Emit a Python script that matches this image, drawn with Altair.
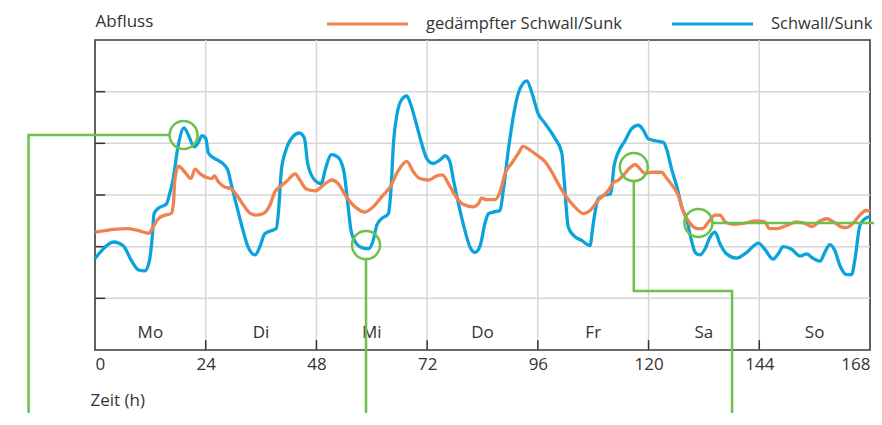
import altair as alt
import pandas as pd

# ---------------- data ----------------
blue_h = [0, 1.4, 4, 6.1, 7.9, 9.4, 10.8, 11.7, 12.4, 12.8, 13.7, 15.5, 16.2, 16.9, 18, 19.3, 20.2, 21.5, 22.3, 23.2,
          24, 24.6, 25.9, 27.7, 28.8, 29.5, 30.6, 32.1, 33.2, 34.7, 35.7, 36.8, 38.2, 39.3, 39.8, 40.4, 41.4, 42.9,
          44.3, 45.4, 46.1, 47.6, 49, 50.1, 51.2, 52.6, 53.9, 54.8, 55.5, 56.5, 57.4, 59.3, 60.3, 61.1, 62.1, 63.6,
          64.2, 64.7, 65.4, 66.5, 67.6, 68.3, 69.4, 70.8, 71.9, 73.3, 74.8, 75.9, 76.9, 77.7, 78.8, 80.2, 81.3, 82.4,
          83.5, 84.5, 85.3, 86.3, 87.8, 88.5, 89.6, 90.7, 91.8, 93.6, 94.7, 96, 97.5, 99.7, 101.2, 101.7, 102.6,
          103.7, 105.5, 107.3, 108, 109.1, 110.5, 111.8, 112.5, 113.4, 114.9, 116.3, 117.8, 118.9, 119.9, 121.4,
          123.2, 123.9, 125, 126.1, 127.2, 128.3, 129.3, 130.1, 131.1, 132.2, 133.3, 134.4, 135.5, 136.9, 139.1,
          141.3, 143.8, 145.2, 147, 148.1, 149.2, 151, 152.8, 154.3, 155.4, 157.2, 158.2, 159.3, 160.4, 161.5,
          162.9, 164, 164.8, 165.8, 166.9, 168]
blue_v = [1.77, 1.92, 2.09, 2.02, 1.73, 1.55, 1.53, 1.69, 2.18, 2.64, 2.74, 2.83, 3.03, 3.29, 3.94, 4.30, 4.17, 3.93,
          4.0, 4.15, 4.10, 3.81, 3.71, 3.61, 3.48, 3.22, 2.83, 2.31, 1.99, 1.84, 1.99, 2.25, 2.31, 2.35, 2.70, 3.48,
          3.87, 4.13, 4.20, 4.10, 3.61, 3.29, 3.22, 3.55, 3.78, 3.74, 3.48, 2.83, 2.31, 2.08, 2.0, 1.96, 2.12, 2.42,
          2.54, 2.64, 3.16, 4.0, 4.53, 4.85, 4.92, 4.79, 4.46, 4.0, 3.71, 3.61, 3.68, 3.76, 3.65, 3.29, 2.83, 2.31,
          1.99, 1.89, 2.02, 2.44, 2.64, 2.67, 2.70, 3.09, 3.87, 4.53, 4.98, 5.21, 4.98, 4.59, 4.39, 4.10, 3.81, 3.29,
          2.38, 2.22, 2.12, 2.02, 2.44, 2.93, 3.0, 3.02, 3.55, 3.82, 4.05, 4.28, 4.35, 4.25, 4.09, 4.05, 4.02, 3.89,
          3.50, 3.17, 2.77, 2.51, 2.12, 1.89, 1.84, 1.95, 2.18, 2.28, 2.05, 1.86, 1.78, 1.89, 2.07, 1.95, 1.76, 1.86,
          2.0, 1.95, 1.82, 1.86, 1.79, 1.72, 1.89, 2.04, 1.92, 1.63, 1.46, 1.46, 1.79, 2.41, 2.54, 2.58]

orange_h = [0, 3.6, 7.2, 9.8, 11.6, 12.6, 13.7, 15.2, 16.5, 17, 17.3, 18.1, 19.4, 20.8, 21.7, 22.8, 24.2, 25.3, 25.9,
            26.7, 28.2, 29.3, 30.7, 32.2, 33.6, 35, 36.5, 37.9, 39, 40.1, 41.5, 43.4, 44.4, 45.9, 47.7, 49.9, 51.3,
            52.7, 54.5, 56.5, 58.5, 60.3, 62.1, 64, 65.8, 67.6, 69, 70.4, 72.3, 74.1, 75.3, 76.6, 78, 79.8, 82, 83.1,
            83.8, 84.9, 86.7, 87.8, 88.9, 90.3, 91.8, 92.8, 94.3, 95.7, 97.5, 99, 100.4, 101.9, 103.7, 105.9, 107.3,
            109.1, 111.3, 112.4, 113.5, 114.5, 116, 117.1, 118.1, 119.2, 120.7, 122.8, 123.9, 125, 126.4, 127.5, 129,
            130.6, 131.7, 133, 134.4, 135.5, 136.6, 138.4, 140.5, 143.4, 145.2, 146.2, 147.8, 149.9, 152.1, 153.9,
            155.4, 157.2, 158.6, 160.1, 161.9, 162.9, 164.4, 165.8, 167.1, 168]
orange_v = [2.28, 2.33, 2.35, 2.30, 2.26, 2.38, 2.54, 2.61, 2.64, 2.83, 3.29, 3.56, 3.45, 3.32, 3.50, 3.41, 3.34, 3.32,
            3.37, 3.26, 3.15, 3.13, 3.0, 2.80, 2.65, 2.61, 2.64, 2.80, 3.06, 3.16, 3.26, 3.41, 3.29, 3.11, 3.08, 3.22,
            3.29, 3.22, 2.96, 2.76, 2.67, 2.77, 2.96, 3.16, 3.48, 3.65, 3.45, 3.32, 3.29, 3.37, 3.39, 3.22, 3.0, 2.82,
            2.77, 2.83, 2.94, 2.91, 2.91, 3.06, 3.42, 3.61, 3.81, 3.94, 3.87, 3.78, 3.65, 3.45, 3.22, 3.0, 2.80, 2.64,
            2.70, 2.90, 3.09, 3.24, 3.29, 3.38, 3.53, 3.59, 3.51, 3.42, 3.44, 3.44, 3.33, 3.20, 3.0, 2.68, 2.45, 2.35,
            2.35, 2.48, 2.61, 2.61, 2.48, 2.43, 2.45, 2.50, 2.48, 2.35, 2.35, 2.41, 2.48, 2.45, 2.39, 2.50, 2.54, 2.48,
            2.38, 2.37, 2.46, 2.61, 2.70, 2.69]

series_names = ["gedämpfter Schwall/Sunk", "Schwall/Sunk"]
series_colors = ["#f0824f", "#0aa3dc"]

day_labels = ["Mo", "Di", "Mi", "Do", "Fr", "Sa", "So"]
day_centers = [12, 36, 60, 84, 108, 132, 156]

x_tick_labels = [0, 24, 48, 72, 96, 120, 144, 168]
x_grid = [24, 48, 72, 96, 120, 144]
y_grid = [1, 2, 3, 4, 5]

# annotation circles (hours, value)
circle_h = [19.2, 58.75, 116.8, 130.8]
circle_v = [4.16, 2.03, 3.54, 2.46]

# annotation leader lines: path id, order, hours, value
lead_id = [1, 1, 1, 2, 2, 3, 3, 3, 3, 4, 4]
lead_ord = [0, 1, 2, 0, 1, 0, 1, 2, 3, 0, 1]
lead_h = [16.2, -14.4, -14.4, 58.75, 58.75, 116.8, 116.8, 138.1, 138.1, 133.8, 173]
lead_v = [4.16, 4.16, -1.8, 1.76, -1.8, 3.27, 1.14, 1.14, -1.8, 2.46, 2.46]

# ---------------- build ----------------
FONT = "Open Sans"
TXT = "#333333"
GREEN = "#6cc04b"

df_blue = pd.DataFrame({"h": blue_h, "v": blue_v, "serie": "Schwall/Sunk"})
df_orange = pd.DataFrame({"h": orange_h, "v": orange_v, "serie": "gedämpfter Schwall/Sunk"})
df_days = pd.DataFrame({"h": day_centers, "label": day_labels, "v": 0.33})
df_xgrid = pd.DataFrame({"h": x_grid})
df_ygrid = pd.DataFrame({"v": y_grid})
df_xt = pd.DataFrame({"h": x_grid, "v0": 0.0, "v1": 0.19})
df_yt = pd.DataFrame({"v": y_grid, "h0": 0.0, "h1": 2.2})
df_circ = pd.DataFrame({"h": circle_h, "v": circle_v})
df_lead = pd.DataFrame({"id": lead_id, "o": lead_ord, "h": lead_h, "v": lead_v})

xs = alt.Scale(domain=[0, 168], nice=False, zero=False)
ys = alt.Scale(domain=[0, 6], nice=False, zero=False)

x_axis = alt.Axis(values=x_tick_labels, ticks=False, grid=False, domain=False, labelPadding=6,
                  labelFontSize=17, labelFont=FONT, labelColor=TXT, title="Zeit (h)",
                  titleFont=FONT, titleFontSize=17, titleFontWeight="normal", titleColor=TXT,
                  titleX=-5, titleY=50, titleAlign="left", titleBaseline="middle", titleAnchor="start")
y_axis = alt.Axis(labels=False, ticks=False, grid=False, domain=False, title="Abfluss",
                  titleFont=FONT, titleFontSize=17, titleFontWeight="normal", titleColor=TXT,
                  titleAngle=0, titleX=0, titleY=-19, titleAlign="left", titleBaseline="middle",
                  titleAnchor="start")

xgrid = alt.Chart(df_xgrid).mark_rule(color="#d6d6d6", strokeWidth=1.5).encode(
    x=alt.X("h:Q", scale=xs, axis=x_axis), y=alt.value(0), y2=alt.value(310))
ygrid = alt.Chart(df_ygrid).mark_rule(color="#d6d6d6", strokeWidth=1.5).encode(
    y=alt.Y("v:Q", scale=ys, axis=y_axis), x=alt.value(0), x2=alt.value(775))
xticks = alt.Chart(df_xt).mark_rule(color="#333333", strokeWidth=1.5).encode(
    x="h:Q", y="v0:Q", y2="v1:Q")
yticks = alt.Chart(df_yt).mark_rule(color="#333333", strokeWidth=1.5).encode(
    y="v:Q", x="h0:Q", x2="h1:Q")

color = alt.Color("serie:N", scale=alt.Scale(domain=series_names, range=series_colors),
                  legend=alt.Legend(title=None, orient="none", direction="horizontal",
                                    legendX=230, legendY=-58.5, symbolType="stroke",
                                    symbolSize=6561, symbolStrokeWidth=3.2, labelOffset=16,
                                    columnPadding=43, labelFont=FONT, labelFontSize=16.5,
                                    labelColor=TXT, labelLimit=400, padding=0))

blue = alt.Chart(df_blue).mark_line(strokeWidth=3.3, interpolate="monotone").encode(
    x="h:Q", y="v:Q", color=color)
orange = alt.Chart(df_orange).mark_line(strokeWidth=3.3, interpolate="monotone").encode(
    x="h:Q", y="v:Q", color=color)

days = alt.Chart(df_days).mark_text(font=FONT, fontSize=17, color=TXT, baseline="middle").encode(
    x="h:Q", y="v:Q", text="label:N")

lead = alt.Chart(df_lead).mark_line(color=GREEN, strokeWidth=2.5).encode(
    x="h:Q", y="v:Q", detail="id:N", order="o:Q")
circ = alt.Chart(df_circ).mark_point(shape="circle", size=784, filled=False, color=GREEN,
                                     strokeWidth=2.5, opacity=1).encode(x="h:Q", y="v:Q")

chart = alt.layer(xgrid, ygrid, xticks, yticks, days, blue, orange, lead, circ).properties(
    width=775, height=310,
    background="white",
    autosize=alt.AutoSizeParams(type="none"),
    padding={"left": 87, "top": 32, "right": 4, "bottom": 63},
).configure_view(stroke="#3a3a3a", strokeWidth=1.6)

chart.save("out.html", embed_options={"renderer": "svg", "actions": False})
